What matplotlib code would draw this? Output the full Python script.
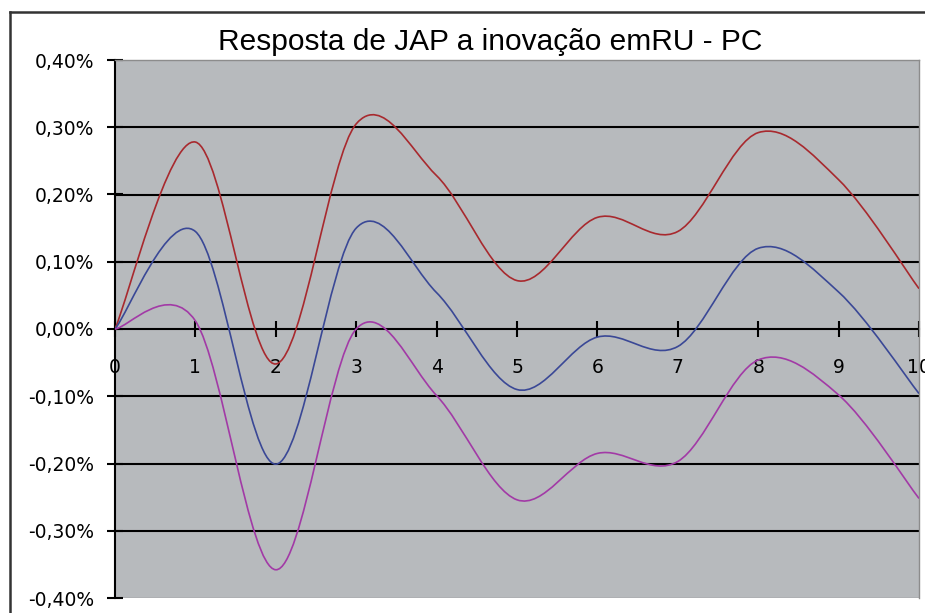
import matplotlib
matplotlib.use("Agg")
import matplotlib.pyplot as plt
from matplotlib.path import Path
from matplotlib.patches import PathPatch
from matplotlib.lines import Line2D
from matplotlib.ticker import FuncFormatter, MultipleLocator

# ---- data (values in percent) ----
periods = [0, 1, 2, 3, 4, 5, 6, 7, 8, 9, 10]
upper = [0.0, 0.278, -0.052, 0.305, 0.228, 0.072, 0.166, 0.145, 0.292, 0.222, 0.060]
central = [0.0, 0.145, -0.201, 0.150, 0.054, -0.090, -0.012, -0.026, 0.120, 0.055, -0.096]
lower = [0.0, 0.012, -0.358, 0.000, -0.099, -0.254, -0.185, -0.197, -0.046, -0.098, -0.252]
title = "Resposta de JAP a inovação emRU - PC"
series_colors = ["#A8292E", "#3A4896", "#A23AA6"]

plt.rcParams['font.family'] = ['Liberation Sans', 'DejaVu Sans']

fig = plt.figure(figsize=(9.25, 6.13), dpi=100)
fig.patch.set_facecolor("white")
ax = fig.add_axes([115/925, 1-598/613, (919-115)/925, (598-60)/613])
ax.set_facecolor("#B7BABD")
ax.set_xlim(0, 10)
ax.set_ylim(-0.4, 0.4)


def smooth_path(xs, ys):
    """Excel-style smoothed line: cubic Bezier segments through the data points."""
    n = len(xs)
    verts = [(xs[0], ys[0])]
    codes = [Path.MOVETO]
    for i in range(n - 1):
        xp, yp = (xs[i-1], ys[i-1]) if i > 0 else (xs[i], ys[i])
        xn, yn = (xs[i+2], ys[i+2]) if i + 2 < n else (xs[i+1], ys[i+1])
        c1 = (xs[i] + (xs[i+1] - xp) / 6, ys[i] + (ys[i+1] - yp) / 6)
        c2 = (xs[i+1] - (xn - xs[i]) / 6, ys[i+1] - (yn - ys[i]) / 6)
        verts += [c1, c2, (xs[i+1], ys[i+1])]
        codes += [Path.CURVE4] * 3
    return Path(verts, codes)


# gridlines
for v in [-0.3, -0.2, -0.1, 0.1, 0.2, 0.3]:
    ax.axhline(v, color="black", lw=1.5, zorder=1)

for ys, c in zip([upper, central, lower], series_colors):
    patch = PathPatch(smooth_path(periods, ys), facecolor="none", edgecolor=c,
                      lw=1.2, zorder=3)
    ax.add_patch(patch)

# spines
ax.spines['left'].set_color("black")
ax.spines['left'].set_linewidth(1.5)
ax.spines['bottom'].set_position(('data', 0))
ax.spines['bottom'].set_color("black")
ax.spines['bottom'].set_linewidth(1.5)
ax.spines['bottom'].set_zorder(2)
for s in ['top', 'right']:
    ax.spines[s].set_color("#8C8C8C")
    ax.spines[s].set_linewidth(1.0)
ax.axhline(-0.4, color="#8C8C8C", lw=1.0, zorder=1)

ax.xaxis.set_major_locator(MultipleLocator(1))
ax.yaxis.set_major_locator(MultipleLocator(0.1))
ax.yaxis.set_major_formatter(FuncFormatter(lambda v, p: f"{v:.2f}%".replace(".", ",").replace("-0,00", "0,00")))
ax.xaxis.set_major_formatter(FuncFormatter(lambda v, p: f"{int(round(v))}"))
ax.tick_params(axis='y', direction='inout', length=12, width=1.5, pad=9,
               labelsize=13.5, colors="black")
ax.tick_params(axis='x', direction='inout', length=12, width=1.5, pad=15,
               labelsize=13.5, colors="black")
for lab in ax.get_yticklabels() + ax.get_xticklabels():
    lab.set_family(['DejaVu Sans'])
for lab in ax.get_xticklabels():
    lab.set_clip_on(False)

fig.text(490/925, 1-42/613, title, ha="center", va="center", fontsize=21.5)

# outer chart frame
fig.add_artist(Line2D([10/925, 10/925], [0, 1-12/613], transform=fig.transFigure,
                      color="#333333", lw=1.8))
fig.add_artist(Line2D([10/925, 1], [1-12/613, 1-12/613], transform=fig.transFigure,
                      color="#333333", lw=1.8))

fig.savefig("out.png", dpi=100)
